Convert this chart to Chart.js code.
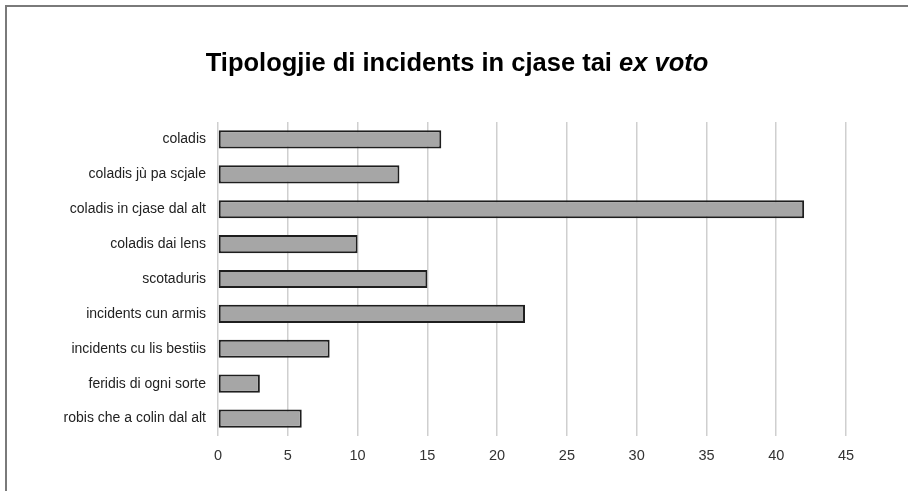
<!DOCTYPE html>
<html>
<head>
<meta charset="utf-8">
<script src="https://cdn.jsdelivr.net/npm/chart.js@4"></script>
<style>
  html, body { margin: 0; padding: 0; background: #fff; overflow: hidden; }
  #frame {
    position: absolute; left: 5px; top: 5px;
    width: 1000px; height: 600px;
    border: 2px solid #7a7a7a;
  }
  #wrap { position: absolute; left: 0; top: 0; width: 908px; height: 491px; }
</style>
</head>
<body>
<div id="frame"></div>
<div id="wrap"><canvas id="chart"></canvas></div>
<script>
const categories = [
    'coladis',
    'coladis jù pa scjale',
    'coladis in cjase dal alt',
    'coladis dai lens',
    'scotaduris',
    'incidents cun armis',
    'incidents cu lis bestiis',
    'feridis di ogni sorte',
    'robis che a colin dal alt'
]
const counts = [16, 13, 42, 10, 15, 22, 8, 3, 6]
const titleMain = 'Tipologjie di incidents in cjase tai '
const titleItalic = 'ex voto'

const FONT = '"Liberation Sans", Arial, Helvetica, sans-serif'

// title with an italic tail, chart.js title can't mix styles
const titlePlugin = {
    id: 'mixedTitle',
    afterDraw(chart) {
        const ctx = chart.ctx
        ctx.save()
        const f1 = 'bold 25.5px ' + FONT
        const f2 = 'italic bold 25.5px ' + FONT
        ctx.font = f1
        const w1 = ctx.measureText(titleMain).width
        ctx.font = f2
        const w2 = ctx.measureText(titleItalic).width
        let x = 457 - (w1 + w2) / 2
        const y = 71
        ctx.fillStyle = '#000'
        ctx.textBaseline = 'alphabetic'
        ctx.font = f1
        ctx.fillText(titleMain, x, y)
        ctx.font = f2
        ctx.fillText(titleItalic, x + w1, y)
        ctx.restore()
    }
}

const ctx = document.getElementById('chart')

new Chart(ctx, {
    type: 'bar',
    data: {
        labels: categories,
        datasets: [{
            data: counts,
            backgroundColor: '#a6a6a6',
            borderColor: '#1e1e1e',
            borderWidth: 2,
            borderSkipped: false,
            barPercentage: 0.52,
            categoryPercentage: 1
        }]
    },
    options: {
        indexAxis: 'y',
        responsive: true,
        maintainAspectRatio: false,
        animation: false,
        layout: {
            padding: { top: 122, right: 62, bottom: 22, left: 0 }
        },
        plugins: {
            legend: { display: false },
            tooltip: { enabled: false },
            title: { display: false }
        },
        scales: {
            x: {
                min: 0,
                max: 45,
                ticks: {
                    stepSize: 5,
                    color: '#333',
                    font: { family: FONT, size: 14.5 },
                    padding: 11
                },
                grid: {
                    color: '#cfcfcf',
                    lineWidth: 1.5,
                    drawTicks: false
                },
                border: { display: false },
                afterFit(scale) { scale.height = 33 }
            },
            y: {
                ticks: {
                    color: '#222',
                    font: { family: FONT, size: 14 },
                    padding: 12
                },
                grid: { display: false, drawTicks: false },
                border: { display: false },
                afterFit(scale) { scale.width = 218 }
            }
        }
    },
    plugins: [titlePlugin]
})
</script>
</body>
</html>
